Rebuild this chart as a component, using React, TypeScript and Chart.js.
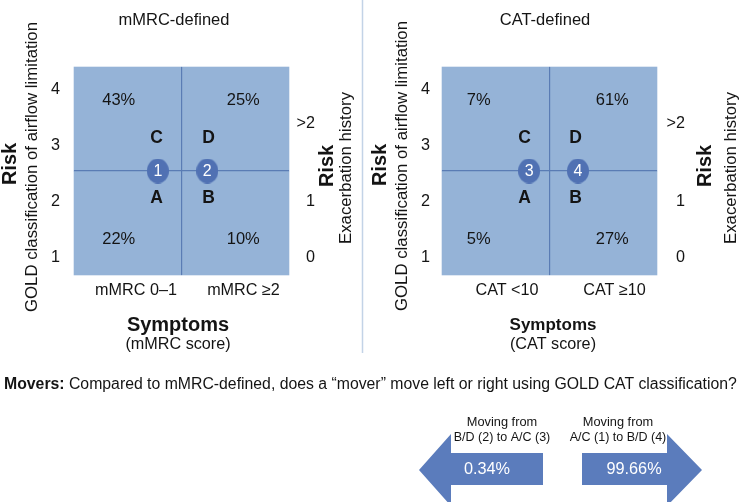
import React, { useEffect, useRef } from 'react';
import { Chart, registerables } from 'chart.js';

Chart.register(...registerables);

const FONT = '"Liberation Sans", Arial, Helvetica, sans-serif';
const TEXT = '#141414';
const SQUARE_FILL = '#95B3D7';
const DIVIDER = '#5A7CB4';
const BUBBLE = '#5071B3';
const ARROW = '#5B7CBC';
const SEPARATOR = '#C3D3E7';

// ---- data ----
const quadrantLetters = ['C', 'D', 'A', 'B'];
const quadrantColumn = [0, 1, 0, 1];
const quadrantRow = [1, 1, 0, 0];
const mmrcShares = [43, 25, 22, 10];
const catShares = [7, 61, 5, 27];
const goldGrades = [1, 2, 3, 4];
const exacerbationTicks = [0, 1, 2.4];
const exacerbationLabels = ['0', '1', '>2'];
const mmrcCategories = ['mMRC 0–1', 'mMRC ≥2'];
const catCategories = ['CAT <10', 'CAT ≥10'];
const mmrcMoverIds = ['1', '2'];
const mmrcMoverX = [0.78, 1.24];
const catMoverIds = ['3', '4'];
const catMoverX = [0.81, 1.265];
const moverDirections = ['left', 'right'];
const moverRoutes = ['B/D (2) to A/C (3)', 'A/C (1) to B/D (4)'];
const moverShares = [0.34, 99.66];

const PANEL_W = 370;
const PANEL_H = 360;
const AREA_TOP = 67;
const AREA_BOTTOM = 275;
const TEXT_RIGHT = 315;
const GOLD_MIN = 0.687;
const GOLD_MAX = 4.412;

type PanelSpec = {
  title: string;
  categories: string[];
  shares: number[];
  moverIds: string[];
  moverX: number[];
  sub: string;
  areaLeft: number;
  areaRight: number;
  goldPad: number;
  labelOffset: number;
  pctDx: number[];
  letterDx: number[];
  titleX: number;
  riskL: number[];
  gold: number[];
  riskR: number[];
  exac: number[];
  sympX: number;
  sympSize: number;
  separator: boolean;
};

const mmrcSpec: PanelSpec = {
  title: 'mMRC-defined',
  categories: mmrcCategories,
  shares: mmrcShares,
  moverIds: mmrcMoverIds,
  moverX: mmrcMoverX,
  sub: '(mMRC score)',
  areaLeft: 74,
  areaRight: 289,
  goldPad: 14,
  labelOffset: 62,
  pctDx: [-9, 8],
  letterDx: [-25, 27],
  titleX: 174,
  riskL: [10, 164],
  gold: [32, 167],
  riskR: [327, 166],
  exac: [346, 168],
  sympX: 178,
  sympSize: 20,
  separator: true,
};

const catSpec: PanelSpec = {
  title: 'CAT-defined',
  categories: catCategories,
  shares: catShares,
  moverIds: catMoverIds,
  moverX: catMoverX,
  sub: '(CAT score)',
  areaLeft: 72,
  areaRight: 287,
  goldPad: 12,
  labelOffset: 65,
  pctDx: [-17, 9],
  letterDx: [-25, 26],
  titleX: 175,
  riskL: [10, 165],
  gold: [32, 166],
  riskR: [335, 166],
  exac: [361, 168],
  sympX: 183,
  sympSize: 17,
  separator: false,
};

function drawText(ctx: CanvasRenderingContext2D, text: string, x: number, y: number, font: string, color = TEXT, align: CanvasTextAlign = 'center') {
  ctx.save();
  ctx.font = font;
  ctx.fillStyle = color;
  ctx.textAlign = align;
  ctx.textBaseline = 'middle';
  ctx.fillText(text, x, y);
  ctx.restore();
}

function drawVText(ctx: CanvasRenderingContext2D, text: string, x: number, y: number, font: string) {
  ctx.save();
  ctx.translate(x, y);
  ctx.rotate(-Math.PI / 2);
  ctx.font = font;
  ctx.fillStyle = TEXT;
  ctx.textAlign = 'center';
  ctx.textBaseline = 'middle';
  ctx.fillText(text, 0, 0);
  ctx.restore();
}

function makeBubble(): HTMLCanvasElement {
  const c = document.createElement('canvas');
  c.width = 22;
  c.height = 25;
  const g = c.getContext('2d')!;
  g.fillStyle = BUBBLE;
  g.beginPath();
  g.ellipse(11, 12.5, 11, 12.5, 0, 0, Math.PI * 2);
  g.fill();
  return c;
}

function buildPanel(canvas: HTMLCanvasElement, p: PanelSpec) {
  const bubble = makeBubble();
  const decor = {
    id: 'panelDecor',
    beforeDraw(chart: any) {
      const { ctx } = chart;
      const xs = chart.scales.x;
      const ys = chart.scales.y;
      ctx.save();
      ctx.fillStyle = '#ffffff';
      ctx.fillRect(0, 0, chart.width, chart.height);
      ctx.fillStyle = SQUARE_FILL;
      for (let i = 0; i < quadrantLetters.length; i++) {
        const c = quadrantColumn[i];
        const r = quadrantRow[i];
        const x0 = xs.getPixelForValue(c);
        const x1 = xs.getPixelForValue(c + 1);
        const y0 = ys.getPixelForValue(r + 1);
        const y1 = ys.getPixelForValue(r);
        ctx.fillRect(x0 - 0.3, y0 - 0.3, x1 - x0 + 0.6, y1 - y0 + 0.6);
      }
      ctx.restore();
    },
    afterDatasetsDraw(chart: any) {
      const { ctx } = chart;
      const xs = chart.scales.x;
      const ys = chart.scales.y;
      const cx = xs.getPixelForValue(1);
      const cy = ys.getPixelForValue(1);
      const meta = chart.getDatasetMeta(0);
      meta.data.forEach((pt: any, i: number) => {
        drawText(ctx, p.moverIds[i], pt.x, pt.y + 0.5, `16px ${FONT}`, '#ffffff');
      });
      for (let i = 0; i < quadrantLetters.length; i++) {
        const c = quadrantColumn[i];
        const r = quadrantRow[i];
        drawText(ctx, quadrantLetters[i], cx + p.letterDx[c], cy + (r ? -33 : 27), `bold 17.5px ${FONT}`);
        drawText(
          ctx,
          `${p.shares[i]}%`,
          xs.getPixelForValue(c + 0.5) + p.pctDx[c],
          ys.getPixelForValue(r + 0.5) + (r ? -19 : 16),
          `16.5px ${FONT}`
        );
      }
    },
    afterDraw(chart: any) {
      const { ctx } = chart;
      drawText(ctx, p.title, p.titleX, 20, `16.5px ${FONT}`);
      drawVText(ctx, 'Risk', p.riskL[0], p.riskL[1], `bold 20px ${FONT}`);
      drawVText(ctx, 'GOLD classification of airflow limitation', p.gold[0], p.gold[1], `16.8px ${FONT}`);
      drawVText(ctx, 'Risk', p.riskR[0], p.riskR[1], `bold 20px ${FONT}`);
      drawVText(ctx, 'Exacerbation history', p.exac[0], p.exac[1], `16.8px ${FONT}`);
      drawText(ctx, 'Symptoms', p.sympX, 325, `bold ${p.sympSize}px ${FONT}`);
      drawText(ctx, p.sub, p.sympX, 345, `16.2px ${FONT}`);
      if (p.separator) {
        ctx.save();
        ctx.strokeStyle = SEPARATOR;
        ctx.lineWidth = 1.5;
        ctx.beginPath();
        ctx.moveTo(362.5, 0);
        ctx.lineTo(362.5, 353);
        ctx.stroke();
        ctx.restore();
      }
    },
  };

  const gridColor = (c: any) => (c.tick && c.tick.value === 1 ? DIVIDER : 'rgba(0,0,0,0)');
  const tickFont = { family: FONT, size: 16.2 };

  return new Chart(canvas, {
    type: 'scatter',
    data: {
      datasets: [
        {
          data: p.moverX.map((x) => ({ x, y: 1 })),
          pointStyle: bubble as any,
          pointRadius: 12,
          pointHoverRadius: 12,
          backgroundColor: BUBBLE,
          borderWidth: 0,
        },
      ],
    },
    options: {
      animation: false,
      responsive: false,
      devicePixelRatio: 1,
      events: [],
      layout: { padding: { top: AREA_TOP, right: PANEL_W - TEXT_RIGHT, left: 0, bottom: 0 } },
      plugins: { legend: { display: false }, tooltip: { enabled: false } },
      scales: {
        x: {
          type: 'linear',
          position: 'bottom',
          min: 0,
          max: 2,
          afterBuildTicks: (s: any) => {
            s.ticks = [0, 1, 2].map((value) => ({ value }));
          },
          afterFit: (s: any) => {
            s.height = PANEL_H - AREA_BOTTOM;
          },
          grid: { color: gridColor, lineWidth: 1.2, drawTicks: false },
          border: { display: false },
          ticks: {
            callback: (_v: any, i: number) => p.categories[i] ?? '',
            labelOffset: p.labelOffset,
            padding: 6,
            font: tickFont,
            color: TEXT,
            maxRotation: 0,
            autoSkip: false,
          },
        },
        y: {
          type: 'linear',
          position: 'left',
          min: 0,
          max: 2,
          afterBuildTicks: (s: any) => {
            s.ticks = [0, 1, 2].map((value) => ({ value }));
          },
          afterFit: (s: any) => {
            s.width = 0;
          },
          grid: { color: gridColor, lineWidth: 1.2, drawTicks: false },
          border: { display: false },
          ticks: { display: false },
        },
        gold: {
          type: 'linear',
          axis: 'y',
          position: 'left',
          min: GOLD_MIN,
          max: GOLD_MAX,
          afterBuildTicks: (s: any) => {
            s.ticks = goldGrades.map((value) => ({ value }));
          },
          afterFit: (s: any) => {
            s.width = p.areaLeft;
          },
          grid: { display: false, drawTicks: false },
          border: { display: false },
          ticks: {
            callback: (v: any) => String(v),
            padding: p.goldPad,
            font: tickFont,
            color: TEXT,
            autoSkip: false,
          },
        },
        exac: {
          type: 'linear',
          axis: 'y',
          position: 'right',
          min: GOLD_MIN - 1,
          max: GOLD_MAX - 1,
          afterBuildTicks: (s: any) => {
            s.ticks = exacerbationTicks.map((value) => ({ value }));
          },
          afterFit: (s: any) => {
            s.width = TEXT_RIGHT - p.areaRight;
          },
          grid: { display: false, drawTicks: false },
          border: { display: false },
          ticks: {
            callback: (_v: any, i: number) => exacerbationLabels[i],
            crossAlign: 'far',
            padding: 0,
            font: tickFont,
            color: TEXT,
            autoSkip: false,
          },
        },
      } as any,
    },
    plugins: [decor],
  });
}

function buildMovers(canvas: HTMLCanvasElement) {
  const shaftLeft = [451, 582];
  const shaftRight = [543, 667];
  const tipX = [419, 702];
  const labelX = [502, 618];
  const pctX = [487, 634];
  const decor = {
    id: 'moversDecor',
    beforeDraw(chart: any) {
      const { ctx } = chart;
      ctx.save();
      ctx.fillStyle = '#ffffff';
      ctx.fillRect(0, 0, chart.width, chart.height);
      ctx.restore();
    },
    afterDraw(chart: any) {
      const { ctx } = chart;
      ctx.save();
      ctx.textBaseline = 'middle';
      ctx.fillStyle = TEXT;
      ctx.font = `bold 15.8px ${FONT}`;
      const lead = 'Movers:';
      const w = ctx.measureText(lead).width;
      ctx.fillText(lead, 4, 25);
      ctx.font = `15.8px ${FONT}`;
      ctx.fillText(' Compared to mMRC-defined, does a \u201Cmover\u201D move left or right using GOLD CAT classification?', 4 + w, 25);
      ctx.restore();

      moverDirections.forEach((dir, i) => {
        const sL = shaftLeft[i];
        const sR = shaftRight[i];
        const back = dir === 'left' ? sL : sR;
        ctx.save();
        ctx.fillStyle = ARROW;
        ctx.beginPath();
        ctx.moveTo(tipX[i], 110);
        ctx.lineTo(back, 74);
        ctx.lineTo(back, 93);
        if (dir === 'left') {
          ctx.lineTo(sR, 93);
          ctx.lineTo(sR, 125);
        } else {
          ctx.lineTo(sL, 93);
          ctx.lineTo(sL, 125);
        }
        ctx.lineTo(back, 125);
        ctx.lineTo(back, 146);
        ctx.closePath();
        ctx.fill();
        ctx.restore();
        drawText(ctx, 'Moving from', labelX[i], 62, `12.8px ${FONT}`);
        drawText(ctx, moverRoutes[i], labelX[i], 78, `12.5px ${FONT}`);
        drawText(ctx, `${moverShares[i]}%`, pctX[i], 110, `16.3px ${FONT}`, '#ffffff');
      });
    },
  };
  return new Chart(canvas, {
    type: 'scatter',
    data: { datasets: [] },
    options: {
      animation: false,
      responsive: false,
      devicePixelRatio: 1,
      events: [],
      plugins: { legend: { display: false }, tooltip: { enabled: false } },
      scales: { x: { display: false }, y: { display: false } },
    },
    plugins: [decor],
  });
}

export default function App() {
  const leftRef = useRef<HTMLCanvasElement>(null);
  const rightRef = useRef<HTMLCanvasElement>(null);
  const bottomRef = useRef<HTMLCanvasElement>(null);

  useEffect(() => {
    const charts = [
      buildPanel(leftRef.current!, mmrcSpec),
      buildPanel(rightRef.current!, catSpec),
      buildMovers(bottomRef.current!),
    ];
    return () => charts.forEach((c) => c.destroy());
  }, []);

  return (
    <div style={{ position: 'fixed', left: 0, top: 0, width: 740, height: 502, background: '#fff', overflow: 'hidden' }}>
      <canvas ref={leftRef} width={PANEL_W} height={PANEL_H} style={{ position: 'absolute', left: 0, top: 0 }} />
      <canvas ref={rightRef} width={PANEL_W} height={PANEL_H} style={{ position: 'absolute', left: 370, top: 0 }} />
      <canvas ref={bottomRef} width={740} height={142} style={{ position: 'absolute', left: 0, top: 360 }} />
    </div>
  );
}
